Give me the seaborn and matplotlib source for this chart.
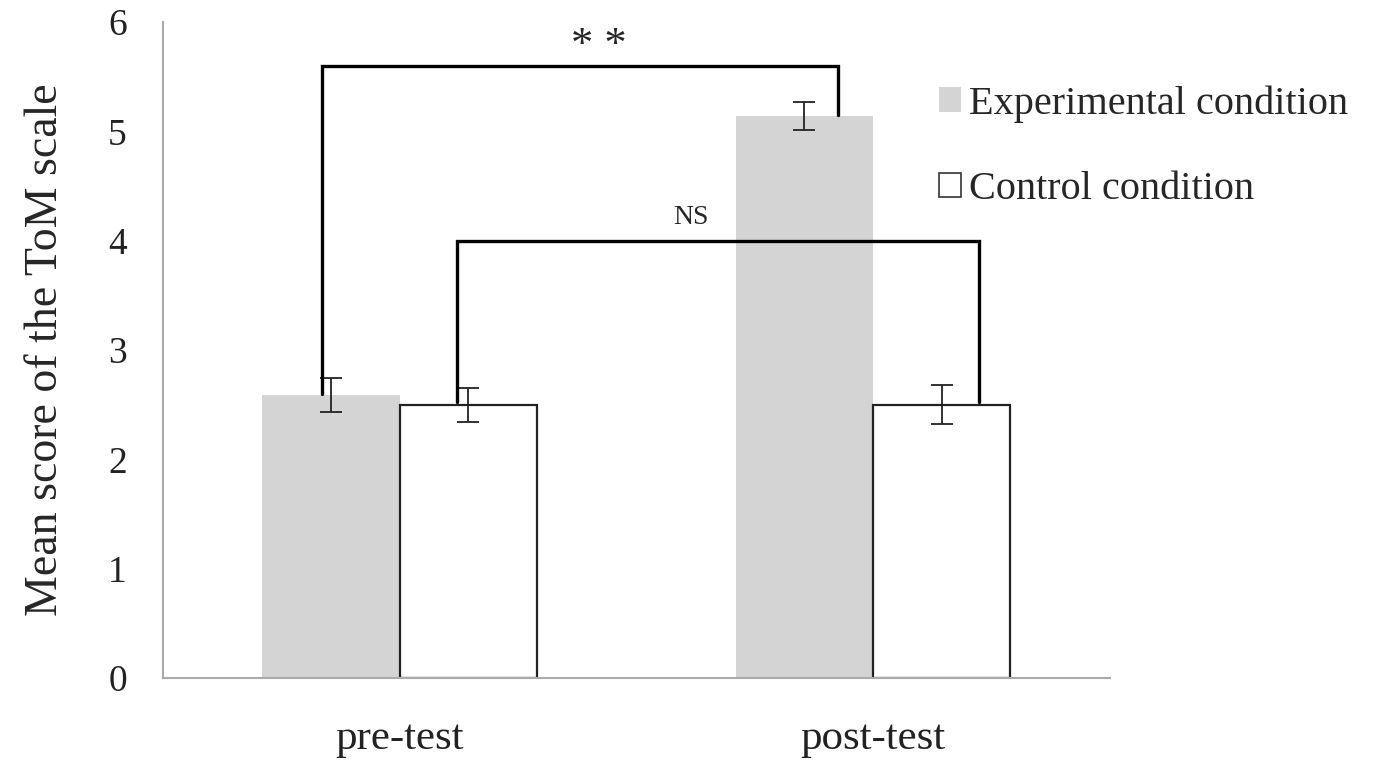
import matplotlib
matplotlib.use("Agg")
import matplotlib.pyplot as plt
import seaborn as sns
import pandas as pd
from matplotlib.patches import Patch

# values
phases = ["pre-test", "post-test"]
conditions = ["Experimental condition", "Control condition"]
experimental_means = [2.59, 5.14]
control_means = [2.50, 2.50]
experimental_err = [0.155, 0.13]
control_err = [0.155, 0.18]

df = pd.DataFrame({
    "phase": phases * 2,
    "condition": [conditions[0]] * 2 + [conditions[1]] * 2,
    "score": experimental_means + control_means,
    "err": experimental_err + control_err,
})

sns.set_style("white")
plt.rcParams["font.family"] = ["Liberation Serif", "DejaVu Serif"]

fig = plt.figure(figsize=(13.76, 7.64), dpi=100)
ax = fig.add_axes([0.1185, 0.1126, 0.688, 0.8585])

palette = {conditions[0]: "#d4d4d4", conditions[1]: "white"}
sns.barplot(data=df, x="phase", y="score", hue="condition", order=phases,
            hue_order=conditions, palette=palette, width=0.58, gap=0,
            errorbar=None, ax=ax, legend=False)

# style bars and add error bars at the bar centres
bars = {}
for cond, container in zip(conditions, ax.containers):
    for phase, patch in zip(phases, container):
        if cond == conditions[0]:
            patch.set_edgecolor("none")
            patch.set_linewidth(0)
        else:
            patch.set_edgecolor("#222222")
            patch.set_linewidth(1.6)
        xc = patch.get_x() + patch.get_width() / 2
        row = df[(df.condition == cond) & (df.phase == phase)].iloc[0]
        ax.errorbar(xc, row.score, yerr=row.err, fmt="none", ecolor="#222222",
                    elinewidth=1.3, capsize=8, capthick=1.3, zorder=4)
        bars[(cond, phase)] = (xc, row.score)

# significance brackets
lw = 2.4
e_pre = bars[(conditions[0], "pre-test")]
e_post = bars[(conditions[0], "post-test")]
c_pre = bars[(conditions[1], "pre-test")]
c_post = bars[(conditions[1], "post-test")]

x1, x2, top = e_pre[0] - 0.02, e_post[0] + 0.07, 5.6
ax.plot([x1, x1, x2, x2], [e_pre[1] + 0.01, top, top, e_post[1] + 0.01],
        color="black", lw=lw, zorder=5, solid_joinstyle="miter")
ax.text(0.42, 5.6, "* *", ha="center", va="bottom", fontsize=32)

x3, x4, top2 = c_pre[0] - 0.025, c_post[0] + 0.078, 4.0
ax.plot([x3, x3, x4, x4], [c_pre[1] + 0.02, top2, top2, c_post[1] + 0.02],
        color="black", lw=lw, zorder=5, solid_joinstyle="miter")
ax.text(0.615, 4.1, "NS", ha="center", va="bottom", fontsize=20)

ax.set_xlim(-0.5, 1.5)
ax.set_ylim(0, 6)
ax.set_yticks(range(0, 7))
ax.set_xlabel("")
ax.set_ylabel("Mean score of the ToM scale", fontsize=33, labelpad=30)
ax.tick_params(axis="both", length=0, colors="#222222")
ax.tick_params(axis="y", pad=26, labelsize=27)
ax.tick_params(axis="x", pad=30, labelsize=31)
for side in ["top", "right"]:
    ax.spines[side].set_visible(False)
for side in ["left", "bottom"]:
    ax.spines[side].set_color("#aaaaaa")
    ax.spines[side].set_linewidth(1.5)

handles = [Patch(facecolor="#d4d4d4", edgecolor="none"),
           Patch(facecolor="white", edgecolor="#333333", linewidth=1.2)]
fig.legend(handles, conditions, loc="upper left", bbox_to_anchor=(0.656, 0.936),
           frameon=False, fontsize=29, handlelength=0.55, handleheight=0.55,
           handletextpad=0.2, labelspacing=1.2)

fig.savefig("out.png", dpi=100)
